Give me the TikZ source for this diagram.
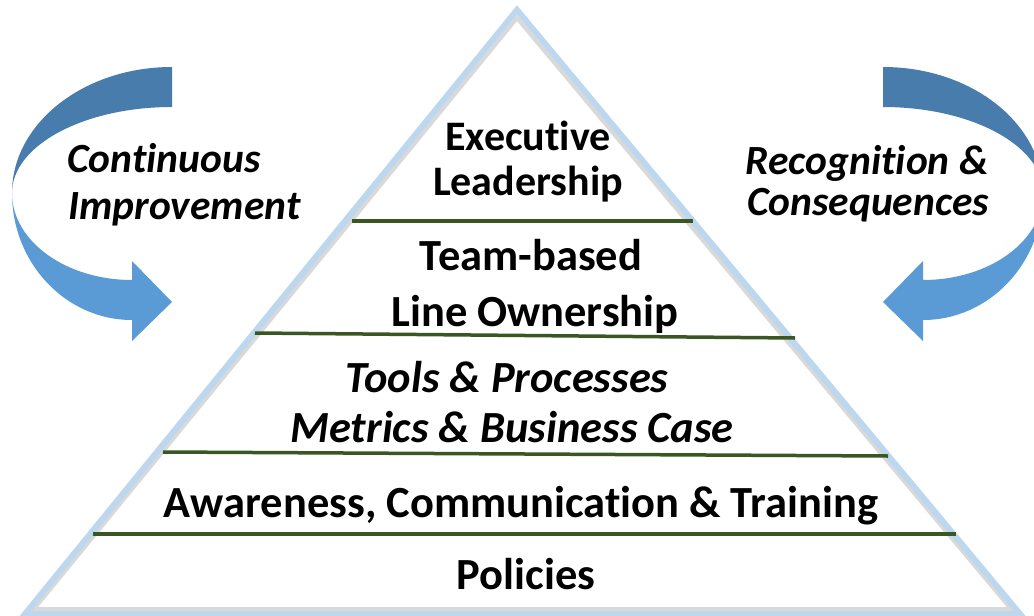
\documentclass[tikz,border=0pt]{standalone}
\usepackage{fontspec}
\setmainfont{Carlito}[Ligatures=NoCommon]
\usetikzlibrary{positioning}
\definecolor{edgeblue}{RGB}{189,215,238}
\definecolor{rulegreen}{RGB}{56,87,35}
\definecolor{backblue}{RGB}{72,124,172}
\definecolor{frontblue}{RGB}{91,155,213}

\begin{document}
\begin{tikzpicture}[x=1pt,y=-1pt,
  layer/.style={font=\fontsize{44.5}{50}\selectfont\bfseries, anchor=base, inner sep=0pt},
  toplayer/.style={font=\fontsize{42}{50}\selectfont\bfseries, anchor=base, inner sep=0pt},
  ilayer/.style={font=\fontsize{44.5}{50}\selectfont\bfseries\itshape, anchor=base, inner sep=0pt},
  side/.style={font=\fontsize{41.5}{50}\selectfont\bfseries\itshape, anchor=base, inner sep=0pt},
  divider/.style={draw=rulegreen, line width=3.5},
  back/.style={fill=backblue},
  front/.style={fill=frontblue}]
\clip (0,0) rectangle (1034,616);
\fill [white] (0,0) rectangle (1034,616);
% pyramid
\coordinate (top) at (517,10);
\coordinate (bl) at (25,614);
\coordinate (br) at (1020,614);
\draw [black!15, line width=4, line join=miter] (517,18) -- (34,609) -- (1011,609) -- cycle;
\draw [edgeblue, line width=6, line join=miter] (top) -- (bl) -- (br) -- cycle;
% layer rules
\draw [divider] (352,221) -- (693,221);
\draw [divider] (255,333) -- (795,338);
\draw [divider] (163,452) -- (888,456);
\draw [divider] (93,534) -- (956,534);
% layer labels
\node [toplayer] (exec) at (528,150) {Executive};
\node [toplayer] (lead) at (528,195) {Leadership};
\node [layer] (team) at (531,270) {Team-based};
\node [layer] (line) at (535,326) {Line Ownership};
\node [ilayer] (tools) at (507,392) {Tools \& Processes};
\node [ilayer] (metrics) at (512,442) {Metrics \& Business Case};
\node [layer] (aware) at (521,517) {Awareness, Communication \& Training};
\node [layer] (policy) at (526,589) {Policies};
% side labels
\node [side, anchor=base west] (cont) at (67,172) {Continuous};
\node [side, anchor=base west] (impr) at (68,219) {Improvement};
\node [side] (recog) at (867,174) {Recognition \&};
\node [side] (conseq) at (868,215) {Consequences};
% left curved arrow
\fill [back] (172,67) arc [start angle=270, end angle=180, x radius=160, y radius=126]
  arc [start angle=180, end angle=270, x radius=160, y radius=86] -- cycle;
\fill [front] (12,193) arc [start angle=180, end angle=90, x radius=120, y radius=127]
  -- (132,341) -- (172,302) -- (132,261) -- (132,280)
  arc [start angle=90, end angle=180, x radius=120, y radius=87] -- cycle;
% right curved arrow
\begin{scope}[shift={(1055,0)}, xscale=-1]
\fill [back] (172,67) arc [start angle=270, end angle=180, x radius=160, y radius=126]
  arc [start angle=180, end angle=270, x radius=160, y radius=86] -- cycle;
\fill [front] (12,193) arc [start angle=180, end angle=90, x radius=120, y radius=127]
  -- (132,341) -- (172,302) -- (132,261) -- (132,280)
  arc [start angle=90, end angle=180, x radius=120, y radius=87] -- cycle;
\end{scope}
\end{tikzpicture}
\end{document}
